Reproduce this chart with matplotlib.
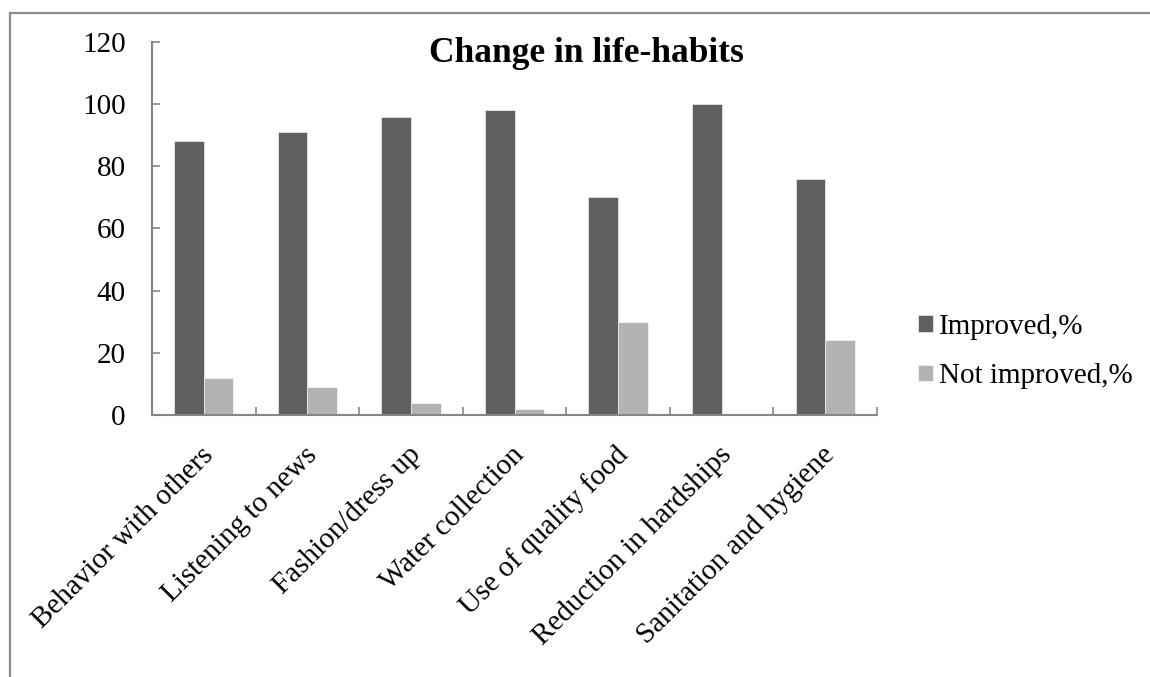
import matplotlib
matplotlib.use("Agg")
from matplotlib import pyplot as plt
from matplotlib.patches import Rectangle
import numpy as np

categories = ["Behavior with others", "Listening to news", "Fashion/dress up",
              "Water collection", "Use of quality food", "Reduction in hardships",
              "Sanitation and hygiene"]
improved = [88, 91, 96, 98, 70, 100, 76]
not_improved = [12, 9, 4, 2, 30, 0, 24]
series_names = ["Improved,%", "Not improved,%"]
y_ticks = [0, 20, 40, 60, 80, 100, 120]

plt.rcParams["font.family"] = ["Liberation Serif", "DejaVu Serif"]

fig = plt.figure(figsize=(11.5, 6.77), dpi=100)
ax = fig.add_axes([0.1322, 0.387, 0.6304, 0.551])

# chart frame, open on the right and bottom
fig.patches.append(Rectangle((10 / 1150, -0.05), 1.2, 1 - 13 / 677 + 0.05,
                             transform=fig.transFigure, fill=False,
                             edgecolor="#8c8c8c", linewidth=1.6))

x = np.arange(len(categories))
w = 0.286
b1 = ax.bar(x - w / 2, improved, w, color="#606060", edgecolor="white", linewidth=0.4)
b2 = ax.bar(x + w / 2, not_improved, w, color="#b3b3b3", edgecolor="white", linewidth=0.4)

ax.set_xlim(-0.5, len(categories) - 0.5)
ax.set_ylim(0, 120)
ax.set_yticks(y_ticks)
ax.set_yticklabels([str(v) for v in y_ticks])
ax.tick_params(axis="y", direction="in", length=6, width=1.2, color="#868686",
               labelsize=21, pad=19)

# category boundary ticks on the x axis, labels at the centers
ax.set_xticks(np.arange(-0.5, len(categories), 1.0))
ax.set_xticklabels([])
ax.tick_params(axis="x", direction="in", length=6, width=1.2, color="#868686")
for i, name in enumerate(categories):
    ax.annotate(name, xy=(i, 0), xycoords=("data", "axes fraction"),
                xytext=(4, -26), textcoords="offset points",
                rotation=45, rotation_mode="anchor", ha="right", va="center",
                fontsize=21)

for s in ["top", "right"]:
    ax.spines[s].set_visible(False)
for s in ["left", "bottom"]:
    ax.spines[s].set_color("#868686")
    ax.spines[s].set_linewidth(1.5)

fig.text(586 / 1150, 1 - 53 / 677, "Change in life-habits", ha="center", va="center",
         fontsize=25.5, fontweight="bold")

fig.legend([b1, b2], series_names, loc="upper left",
           bbox_to_anchor=(918 / 1150, 1 - 314 / 677), frameon=False,
           fontsize=21, handlelength=0.52, handleheight=0.5, handletextpad=0.2,
           labelspacing=0.8, borderpad=0, borderaxespad=0)

fig.savefig("out.png", dpi=100)
